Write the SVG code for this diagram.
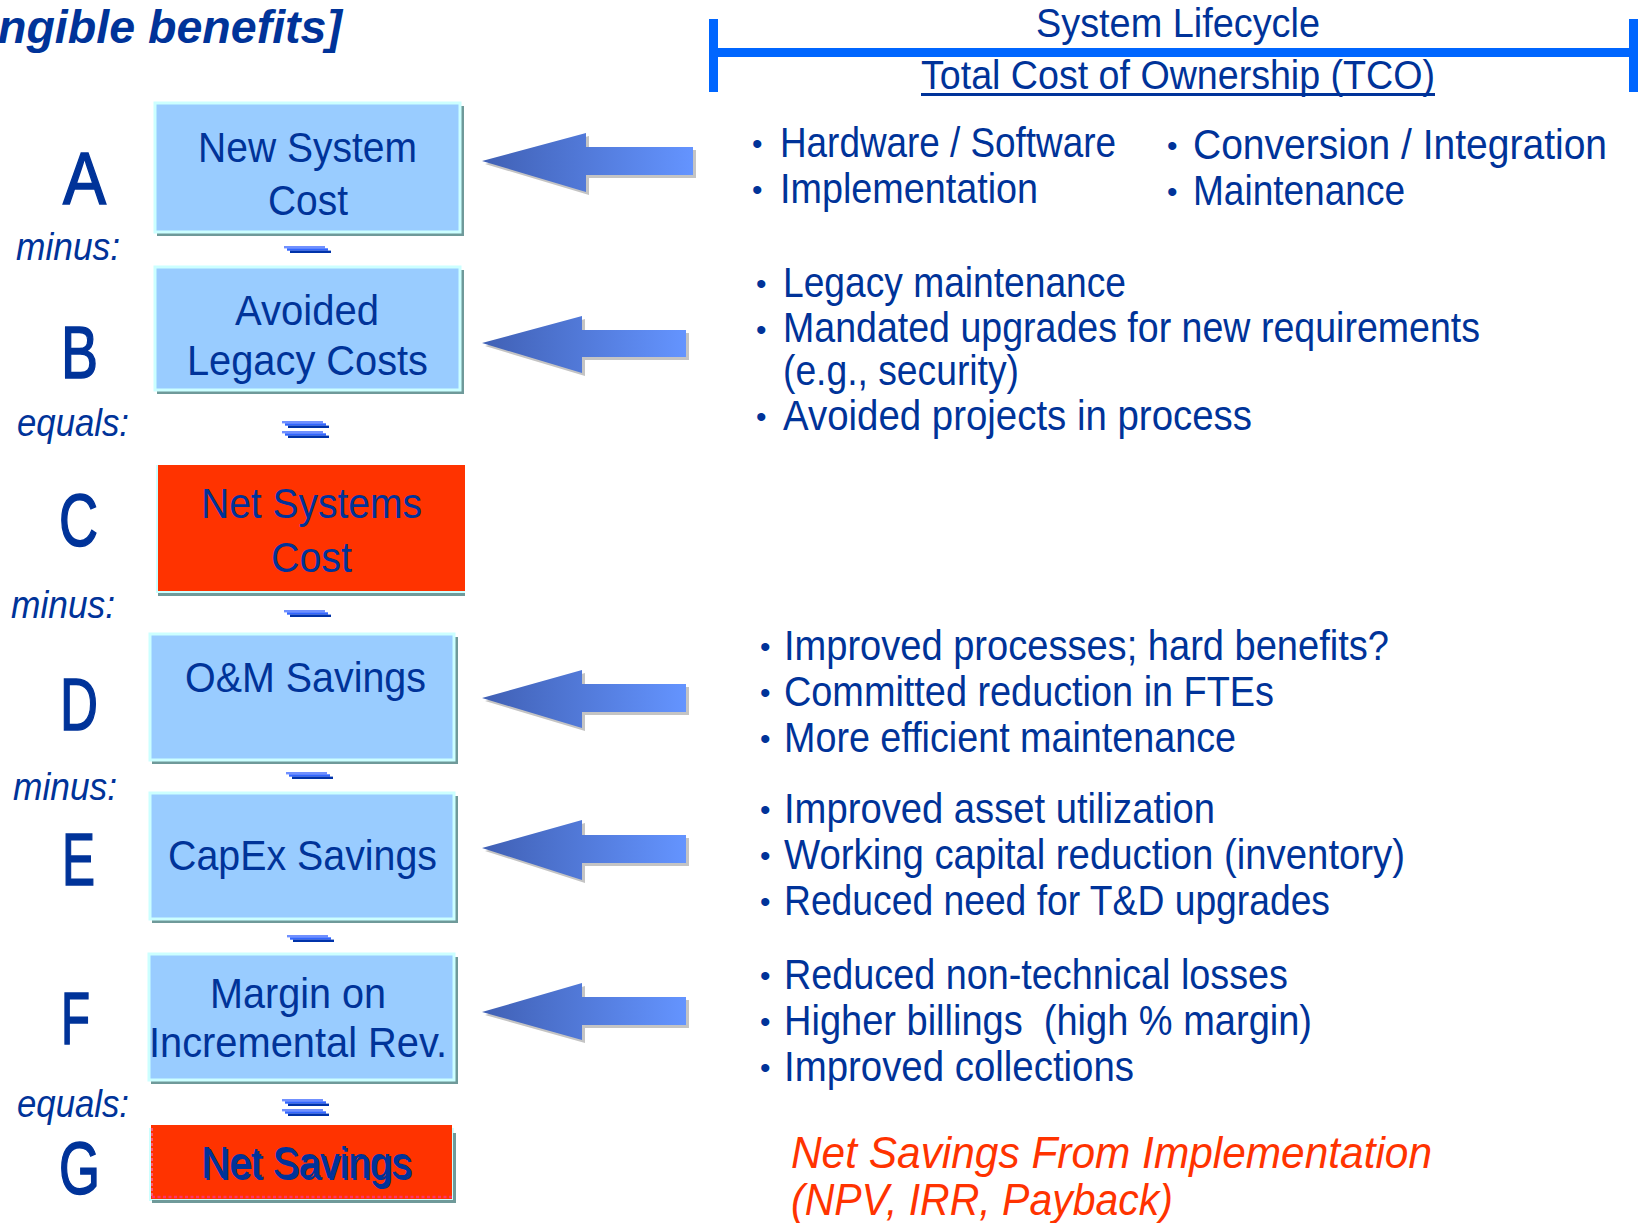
<svg xmlns="http://www.w3.org/2000/svg" xmlns:xlink="http://www.w3.org/1999/xlink" width="1639" height="1223" viewBox="0 0 1639 1223">
<defs>
<style>
.t{font-family:'Liberation Sans Narrow','Arial Narrow','Liberation Sans',Arial,sans-serif;fill:#003399}
.box{font-size:42px}
.big{font-size:74px;stroke:#003399;stroke-width:1.6px}
.lbl{font-size:38px;font-style:italic}
.rt{font-size:42px}
.bul{font-family:'Liberation Sans',Arial,sans-serif;font-size:30px;fill:#003399}
.red{font-family:'Liberation Sans Narrow','Arial Narrow','Liberation Sans',Arial,sans-serif;font-size:44px;font-style:italic;fill:#FF3300}
.blue{fill:#99CCFF;stroke:#CCFFFF;stroke-width:3}
.shadow{fill:#6F9A9A}
.redbox{fill:#FF3300}
.arr{fill:url(#ag)}
.arrs{fill:#C4C4C4}
</style>
<linearGradient id="ag" x1="0" y1="0" x2="1" y2="0">
<stop offset="0" stop-color="#4060B4"/>
<stop offset="1" stop-color="#6494FF"/>
</linearGradient>
<g id="bar">
<rect x="0" y="0" width="41" height="2.4" fill="#7090FF"/>
<rect x="3" y="2.3" width="41" height="2.4" fill="#3366FF"/>
<rect x="6" y="4.6" width="41" height="2.4" fill="#0033AA"/>
</g>
</defs>
<rect x="0" y="0" width="1639" height="1223" fill="#FFFFFF"/>

<g id="title">
<text x="-2" y="43" font-family="'Liberation Sans',Arial,sans-serif" font-size="46" font-weight="bold" font-style="italic" fill="#003399" textLength="344" lengthAdjust="spacingAndGlyphs">ngible benefits]</text>
</g>

<g id="lifecycle">
<rect x="710" y="48" width="926" height="9" fill="#0066FF"/>
<rect x="709" y="19" width="9" height="73" fill="#0066FF"/>
<rect x="1629" y="19" width="9" height="73" fill="#0066FF"/>
<text class="t" x="1036" y="37" font-size="40" textLength="284" lengthAdjust="spacingAndGlyphs">System Lifecycle</text>
<text class="t" x="921" y="89" font-size="40" textLength="514" lengthAdjust="spacingAndGlyphs">Total Cost of Ownership (TCO)</text>
<rect x="921" y="93" width="514" height="3" fill="#003399"/>
</g>

<g id="letters">
<text class="t big" x="63" y="204" textLength="43" lengthAdjust="spacingAndGlyphs">A</text>
<text class="t big" x="61" y="378" textLength="37" lengthAdjust="spacingAndGlyphs">B</text>
<text class="t big" x="59" y="546" textLength="39" lengthAdjust="spacingAndGlyphs">C</text>
<text class="t big" x="60" y="730" textLength="38" lengthAdjust="spacingAndGlyphs">D</text>
<text class="t big" x="62" y="885" textLength="33" lengthAdjust="spacingAndGlyphs">E</text>
<text class="t big" x="61" y="1044" textLength="29" lengthAdjust="spacingAndGlyphs">F</text>
<text class="t big" x="59" y="1194" textLength="41" lengthAdjust="spacingAndGlyphs">G</text>
</g>

<g id="labels">
<text class="t lbl" x="16" y="260" textLength="104" lengthAdjust="spacingAndGlyphs">minus:</text>
<text class="t lbl" x="17" y="436" textLength="112" lengthAdjust="spacingAndGlyphs">equals:</text>
<text class="t lbl" x="11" y="618" textLength="104" lengthAdjust="spacingAndGlyphs">minus:</text>
<text class="t lbl" x="13" y="800" textLength="104" lengthAdjust="spacingAndGlyphs">minus:</text>
<text class="t lbl" x="17" y="1117" textLength="112" lengthAdjust="spacingAndGlyphs">equals:</text>
</g>

<g id="operators">
<use xlink:href="#bar" x="284" y="246"/>
<use xlink:href="#bar" x="282" y="421"/>
<use xlink:href="#bar" x="282" y="431"/>
<use xlink:href="#bar" x="284" y="610"/>
<use xlink:href="#bar" x="286" y="772"/>
<use xlink:href="#bar" x="287" y="935"/>
<use xlink:href="#bar" x="282" y="1099"/>
<use xlink:href="#bar" x="282" y="1109"/>
</g>

<g id="node-A">
<rect class="shadow" x="157" y="106" width="307" height="130"/>
<rect class="blue" x="155" y="103" width="305" height="129"/>
<text class="t box" x="198" y="162" textLength="219" lengthAdjust="spacingAndGlyphs">New System</text>
<text class="t box" x="268" y="215" textLength="80" lengthAdjust="spacingAndGlyphs">Cost</text>
</g>

<g id="node-B">
<rect class="shadow" x="157" y="270" width="307" height="124"/>
<rect class="blue" x="155" y="267" width="305" height="123"/>
<text class="t box" x="235" y="325" textLength="144" lengthAdjust="spacingAndGlyphs">Avoided</text>
<text class="t box" x="187" y="375" textLength="241" lengthAdjust="spacingAndGlyphs">Legacy Costs</text>
</g>

<g id="node-C">
<rect class="shadow" x="158" y="468" width="307" height="128"/>
<rect x="156" y="465" width="309" height="128" fill="#CCFFFF"/>
<rect class="redbox" x="158" y="465" width="307" height="126"/>
<text class="t box" x="201" y="518" textLength="221" lengthAdjust="spacingAndGlyphs">Net Systems</text>
<text class="t box" x="271" y="572" textLength="81" lengthAdjust="spacingAndGlyphs">Cost</text>
</g>

<g id="node-D">
<rect class="shadow" x="152" y="637" width="306" height="127"/>
<rect class="blue" x="150" y="634" width="304" height="126"/>
<text class="t box" x="185" y="692" textLength="241" lengthAdjust="spacingAndGlyphs">O&amp;M Savings</text>
</g>

<g id="node-E">
<rect class="shadow" x="152" y="796" width="306" height="127"/>
<rect class="blue" x="150" y="793" width="304" height="126"/>
<text class="t box" x="168" y="870" textLength="269" lengthAdjust="spacingAndGlyphs">CapEx Savings</text>
</g>

<g id="node-F">
<rect class="shadow" x="151" y="957" width="307" height="127"/>
<rect class="blue" x="149" y="954" width="305" height="126"/>
<text class="t box" x="210" y="1008" textLength="176" lengthAdjust="spacingAndGlyphs">Margin on</text>
<text class="t box" x="149" y="1057" textLength="298" lengthAdjust="spacingAndGlyphs">Incremental Rev.</text>
</g>

<g id="node-G">
<rect x="149" y="1128" width="305" height="73" fill="#CCFFFF"/>
<rect class="shadow" x="152" y="1200" width="303" height="3"/>
<rect class="shadow" x="453" y="1133" width="3" height="70"/>
<rect class="redbox" x="151" y="1125" width="301" height="74"/>
<line x1="152" y1="1128" x2="152" y2="1197" stroke="#FF6699" stroke-width="1.5" stroke-dasharray="3 2"/>
<line x1="152" y1="1197" x2="452" y2="1197" stroke="#FF3366" stroke-width="2.5" stroke-dasharray="3 2.5"/>
<text class="t" x="203" y="1180" font-size="45" fill="#000000" textLength="210" lengthAdjust="spacingAndGlyphs">Net Savings</text>
<text class="t" x="201" y="1178" font-size="45" textLength="210" lengthAdjust="spacingAndGlyphs">Net Savings</text>
</g>

<g id="connectors">
<polygon class="arrs" points="485,164 589,136 589,150 696,150 696,178 589,178 589,195"/>
<polygon class="arr" points="482,161 586,133 586,147 693,147 693,175 586,175 586,192"/>
<polygon class="arrs" points="485,346 585,319 585,333 689,333 689,360 585,360 585,376"/>
<polygon class="arr" points="482,343 582,316 582,330 686,330 686,357 582,357 582,373"/>
<polygon class="arrs" points="485,701 585,673 585,687 689,687 689,715 585,715 585,731"/>
<polygon class="arr" points="482,698 582,670 582,684 686,684 686,712 582,712 582,728"/>
<polygon class="arrs" points="485,851 585,823 585,838 689,838 689,866 585,866 585,883"/>
<polygon class="arr" points="482,848 582,820 582,835 686,835 686,863 582,863 582,880"/>
<polygon class="arrs" points="485,1015 585,986 585,1000 689,1000 689,1028 585,1028 585,1043"/>
<polygon class="arr" points="482,1012 582,983 582,997 686,997 686,1025 582,1025 582,1040"/>
</g>

<g id="tco-items">
<text class="bul" x="752" y="154">•</text>
<text class="t rt" x="780" y="157" textLength="336" lengthAdjust="spacingAndGlyphs">Hardware / Software</text>
<text class="bul" x="752" y="200">•</text>
<text class="t rt" x="780" y="203" textLength="258" lengthAdjust="spacingAndGlyphs">Implementation</text>
<text class="bul" x="1167" y="156">•</text>
<text class="t rt" x="1193" y="159" textLength="414" lengthAdjust="spacingAndGlyphs">Conversion /  Integration</text>
<text class="bul" x="1167" y="202">•</text>
<text class="t rt" x="1193" y="205" textLength="212" lengthAdjust="spacingAndGlyphs">Maintenance</text>
</g>

<g id="legacy-items">
<text class="bul" x="756" y="294">•</text>
<text class="t rt" x="783" y="297" textLength="343" lengthAdjust="spacingAndGlyphs">Legacy maintenance</text>
<text class="bul" x="756" y="340">•</text>
<text class="t rt" x="783" y="342" textLength="697" lengthAdjust="spacingAndGlyphs">Mandated upgrades for new requirements</text>
<text class="t rt" x="783" y="385" textLength="236" lengthAdjust="spacingAndGlyphs">(e.g., security)</text>
<text class="bul" x="756" y="427">•</text>
<text class="t rt" x="783" y="430" textLength="469" lengthAdjust="spacingAndGlyphs">Avoided projects in process</text>
</g>

<g id="om-items">
<text class="bul" x="760" y="657">•</text>
<text class="t rt" x="784" y="660" textLength="605" lengthAdjust="spacingAndGlyphs">Improved processes; hard benefits?</text>
<text class="bul" x="760" y="703">•</text>
<text class="t rt" x="784" y="706" textLength="490" lengthAdjust="spacingAndGlyphs">Committed reduction in FTEs</text>
<text class="bul" x="760" y="749">•</text>
<text class="t rt" x="784" y="752" textLength="452" lengthAdjust="spacingAndGlyphs">More efficient maintenance</text>
</g>

<g id="capex-items">
<text class="bul" x="760" y="820">•</text>
<text class="t rt" x="784" y="823" textLength="431" lengthAdjust="spacingAndGlyphs">Improved asset utilization</text>
<text class="bul" x="760" y="866">•</text>
<text class="t rt" x="784" y="869" textLength="621" lengthAdjust="spacingAndGlyphs">Working capital reduction (inventory)</text>
<text class="bul" x="760" y="912">•</text>
<text class="t rt" x="784" y="915" textLength="546" lengthAdjust="spacingAndGlyphs">Reduced need for T&amp;D upgrades</text>
</g>

<g id="margin-items">
<text class="bul" x="760" y="986">•</text>
<text class="t rt" x="784" y="989" textLength="504" lengthAdjust="spacingAndGlyphs">Reduced non-technical losses</text>
<text class="bul" x="760" y="1032">•</text>
<text class="t rt" x="784" y="1035" textLength="528" lengthAdjust="spacingAndGlyphs" xml:space="preserve">Higher billings  (high % margin)</text>
<text class="bul" x="760" y="1078">•</text>
<text class="t rt" x="784" y="1081" textLength="350" lengthAdjust="spacingAndGlyphs">Improved collections</text>
</g>

<g id="net-savings-note">
<text class="red" x="791" y="1168" textLength="641" lengthAdjust="spacingAndGlyphs">Net Savings From Implementation</text>
<text class="red" x="791" y="1215" textLength="382" lengthAdjust="spacingAndGlyphs">(NPV, IRR, Payback)</text>
</g>
</svg>
